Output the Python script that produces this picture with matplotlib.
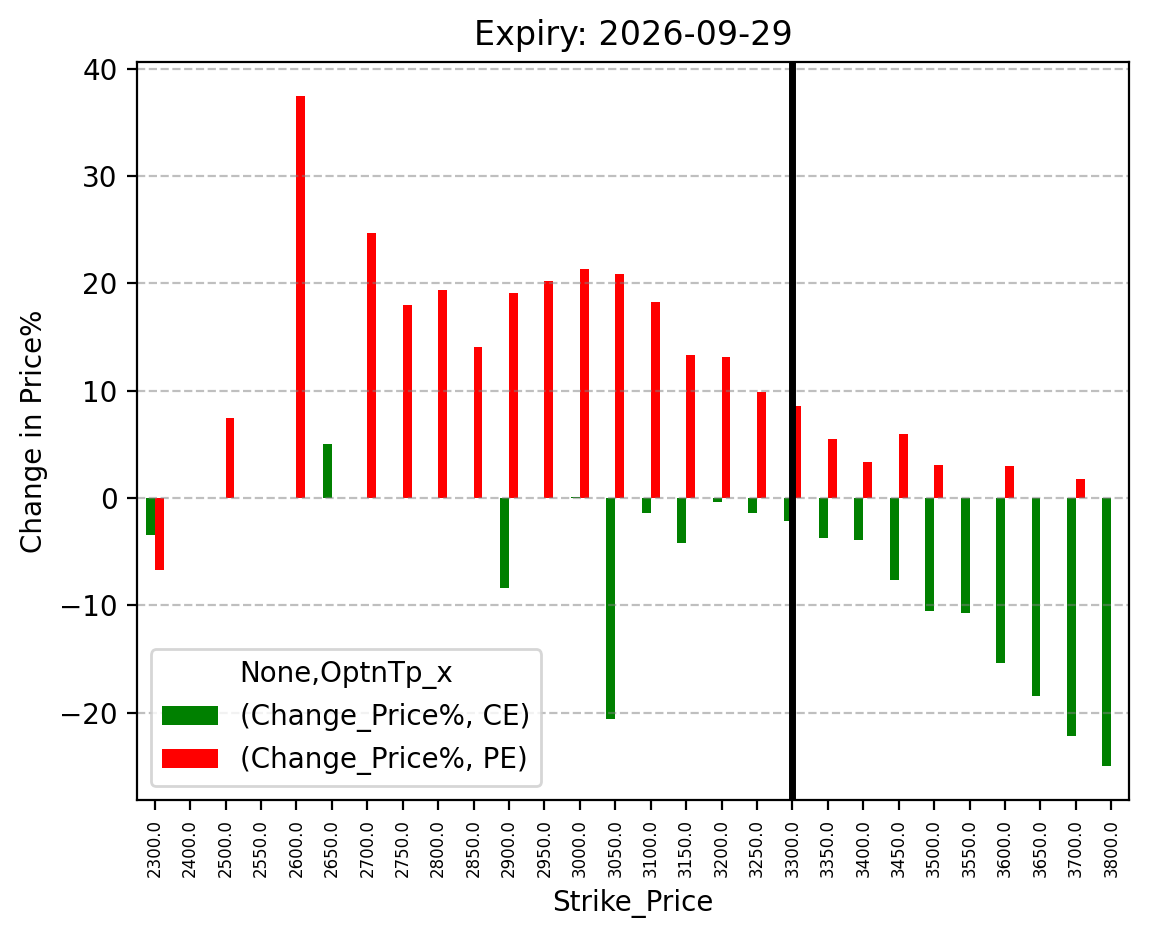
import matplotlib
matplotlib.use("Agg")
import matplotlib.pyplot as plt
import numpy as np
import pandas as pd

nan = np.nan

strikes = [2300.0, 2400.0, 2500.0, 2550.0, 2600.0, 2650.0, 2700.0, 2750.0,
           2800.0, 2850.0, 2900.0, 2950.0, 3000.0, 3050.0, 3100.0, 3150.0,
           3200.0, 3250.0, 3300.0, 3350.0, 3400.0, 3450.0, 3500.0, 3550.0,
           3600.0, 3650.0, 3700.0, 3800.0]

ce_change = [-3.4, nan, nan, nan, nan, 5.0, nan, nan,
             nan, nan, -8.4, nan, 0.1, -20.6, -1.4, -4.2,
             -0.4, -1.4, -2.1, -3.7, -3.9, -7.6, -10.5, -10.7,
             -15.4, -18.4, -22.2, -25.0]

pe_change = [-6.7, nan, 7.5, nan, 37.5, nan, 24.7, 18.0,
             19.4, 14.1, 19.1, 20.2, 21.3, 20.9, 18.3, 13.3,
             13.1, 9.9, 8.6, 5.5, 3.4, 5.95, 3.1, nan,
             3.0, nan, 1.8, nan]

spot_strike = 3300.0
expiry = "2026-09-29"

cols = pd.MultiIndex.from_tuples([("Change_Price%", "CE"), ("Change_Price%", "PE")],
                                 names=[None, "OptnTp_x"])
df = pd.DataFrame(np.column_stack([ce_change, pe_change]), columns=cols,
                  index=pd.Index(strikes, name="Strike_Price"))

fig = plt.figure(figsize=(1149 / 200, 939 / 200), dpi=200)
ax = fig.add_axes([137 / 1149, 139 / 939, 992 / 1149, 738 / 939])

df.plot(kind="bar", ax=ax, color=["green", "red"])

ax.axvline(x=strikes.index(spot_strike), color="black", linewidth=2.5)

ax.set_title(f"Expiry: {expiry}")
ax.set_ylabel("Change in Price%")
ax.tick_params(axis="x", labelsize=6)
ax.grid(axis="y", linestyle="--", color="gray", alpha=0.5)
ax.legend(title="None,OptnTp_x", loc="lower left")

fig.savefig("out.png", dpi=200)
